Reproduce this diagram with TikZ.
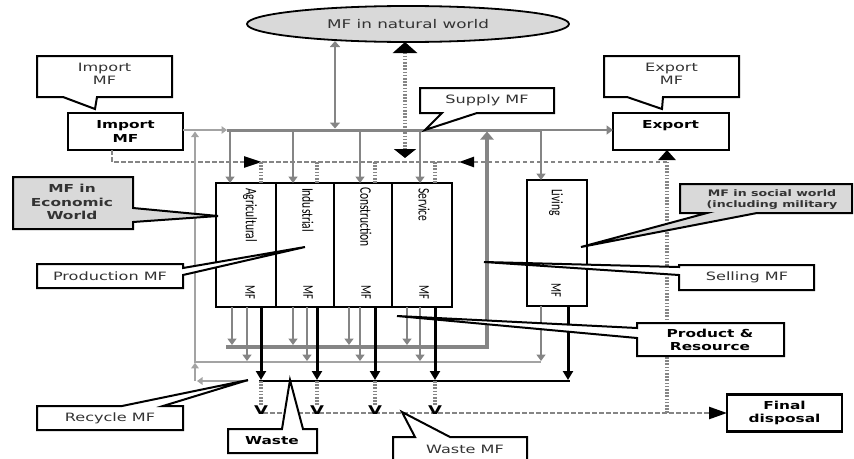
\documentclass[tikz,border=0pt]{standalone}
\usepackage{fontspec}
\setmainfont[FakeStretch=1.4]{DejaVu Sans}
\newfontfamily\sectorfont{Carlito}
\newfontfamily\markfont[FakeStretch=1.5]{DejaVu Sans Bold}
\usetikzlibrary{arrows.meta,shapes.geometric}

\definecolor{flow}{HTML}{858585}
\definecolor{flowlight}{HTML}{A3A3A3}
\definecolor{panel}{HTML}{D9D9D9}
\definecolor{ink}{HTML}{333333}

\tikzset{
  every node/.style={inner sep=0pt, outer sep=0pt},
  txt/.style={font=\fontsize{11.5}{13.5}\selectfont, text=ink, align=center},
  btxt/.style={font=\fontsize{11}{13.5}\selectfont\bfseries, text=black, align=center},
  frame/.style={draw=black, line width=2.2pt, fill=white, minimum height=37pt},
  callout/.style={draw=black, line width=2pt, fill=white},
  grayout/.style={callout, fill=panel},
  sector/.style={draw=black, line width=2.2pt, minimum height=124pt},
  vlab/.style={rotate=-90, anchor=west, font=\sectorfont\fontsize{11.5}{13}\selectfont},
  mflab/.style={rotate=-90, font=\sectorfont\fontsize{10.5}{12}\selectfont},
  vmark/.style={anchor=south, font=\markfont\fontsize{12}{12}\selectfont, text=black},
  garrow/.style={draw=flow, line width=2.2pt, -{Triangle[length=6.5pt,width=9pt]}},
  lightarrow/.style={draw=flowlight, line width=1.6pt, -{Triangle[length=5.5pt,width=7.5pt]}},
  darkarrow/.style={draw=black, line width=3pt, -{Triangle[length=9pt,width=10pt]}},
  dotflow/.style={draw=flow, line width=3.2pt, dash pattern=on 1.6pt off 1.6pt},
  dashflow/.style={draw=flow, line width=2.4pt, dash pattern=on 4.5pt off 2.5pt},
}

\begin{document}
\begin{tikzpicture}[x=1pt,y=-1pt]
\useasboundingbox (0,0) rectangle (854,458);
\clip (0,0) rectangle (854,458);

% ---------- main nodes ----------
\node[ellipse, draw=black, line width=1.8pt, fill=panel, minimum width=322pt,
      minimum height=36pt, txt, font=\fontsize{12}{14}\selectfont] (nat) at (408,24) {MF in natural world};

\node[frame, minimum width=115pt, btxt] (imp) at (125.5,131.5) {Import\\MF};
\node[frame, minimum width=116pt] (exp) at (671,131.5) {};
\node[btxt] (expt) at (670.5,126) {Export};
\node[frame, minimum width=115pt, btxt] (fin) at (784.5,413) {Final\\disposal};

% economic sectors and living
\node[sector, minimum width=60pt] (agr) at (246,245) {};
\node[sector, minimum width=58pt] (ind) at (305,245) {};
\node[sector, minimum width=58pt] (con) at (363,245) {};
\node[sector, minimum width=60pt] (ser) at (422,245) {};
\node[sector, minimum width=60pt, minimum height=126pt] (liv) at (557,243) {};

\node[vlab] (agrl) at (250,188) {\scalebox{1}[1.4]{Agricultural}};
\node[vlab] (indl) at (308,188) {\scalebox{1}[1.4]{Industrial}};
\node[vlab] (conl) at (366,187) {\scalebox{1}[1.4]{Construction}};
\node[vlab] (serl) at (424,188) {\scalebox{1}[1.4]{Service}};
\node[vlab] (livl) at (556,189) {\scalebox{1}[1.4]{Living}};
\node[mflab] (agrm) at (250,292) {\scalebox{1}[1.4]{MF}};
\node[mflab] (indm) at (308,292) {\scalebox{1}[1.4]{MF}};
\node[mflab] (conm) at (366,292) {\scalebox{1}[1.4]{MF}};
\node[mflab] (serm) at (424,292) {\scalebox{1}[1.4]{MF}};
\node[mflab] (livm) at (556,290) {\scalebox{1}[1.4]{MF}};

% ---------- reference lines ----------
\coordinate (busL) at (227,130);
\coordinate (busR) at (541,130);
\coordinate (imline) at (0,162);
\coordinate (sl) at (0,347);
\coordinate (rl) at (0,362);
\coordinate (bl) at (0,381);
\coordinate (wline) at (0,413);
\coordinate (natlo) at (335,41);
\coordinate (natdot) at (405,42);
\coordinate (dotend) at (405,158);

% ---------- supply ----------
\draw[lightarrow] (imp.east |- busL) -- (busL);
\draw[draw=flow, line width=3pt] (busL) -- (busR);
\draw[garrow] (busR) -- (exp.west |- busR);
\draw[draw=flow, line width=2.6pt, {Triangle[length=6pt,width=10pt]}-{Triangle[length=6pt,width=10pt]},
      shorten >=1.5pt] (natlo) -- (natlo |- busL);
\draw[dotflow, {Triangle[length=11pt,width=24pt,color=black]}-{Triangle[length=9pt,width=22pt,color=black]}]
      (natdot) -- (dotend);

\draw[garrow] (busL -| 230,0) -- (agr.north -| 230,0);
\draw[garrow] (busL -| 293,0) -- (ind.north -| 293,0);
\draw[garrow] (busL -| 360,0) -- (con.north -| 360,0);
\draw[garrow] (busL -| 420,0) -- (ser.north -| 420,0);
\draw[garrow] (busR) -- (liv.north -| busR);

% ---------- import / export (dashed) ----------
\draw[dashflow, -{Triangle[length=18pt,width=11pt,color=black]}] (imp.south -| 112,0) |- (imline -| 262,0);
\draw[dashflow] (imline -| 262,0) -- (imline -| 460,0);
\draw[dashflow, -{Triangle[length=15pt,width=10pt,color=black]}] (imline -| 667,0) -- (imline -| 459,0);
\draw[dotflow] (imline -| 261,0) -- (agr.north -| 261,0);
\draw[dotflow] (imline -| 317,0) -- (ind.north -| 317,0);
\draw[dotflow] (imline -| 375,0) -- (con.north -| 375,0);
\draw[dotflow] (imline -| 435,0) -- (ser.north -| 435,0);
\draw[dotflow, -{Triangle[length=10pt,width=17pt,color=black]}] (wline -| 667,0) -- (exp.south -| 667,0);

% ---------- selling ----------
\draw[draw=flow, line width=4.2pt, line join=miter, -{Triangle[length=8pt,width=13pt]}, shorten >=1.5pt]
      (sl -| 226,0) -- (sl -| 487,0) -- (busL -| 487,0);
\draw[garrow, shorten >=2pt] (agr.south -| 232,0) -- (sl -| 232,0);
\draw[garrow, shorten >=2pt] (ind.south -| 293,0) -- (sl -| 293,0);
\draw[garrow, shorten >=2pt] (con.south -| 349,0) -- (sl -| 349,0);
\draw[garrow, shorten >=2pt] (ser.south -| 407,0) -- (sl -| 407,0);

% ---------- product & resource ----------
\draw[lightarrow, line join=miter, shorten >=1.5pt] (rl -| 541,0) -- (rl -| 195,0) -- (busL -| 195,0);
\draw[garrow, shorten >=1pt] (agr.south -| 247,0) -- (rl -| 247,0);
\draw[garrow, shorten >=1pt] (ind.south -| 307,0) -- (rl -| 307,0);
\draw[garrow, shorten >=1pt] (con.south -| 360,0) -- (rl -| 360,0);
\draw[garrow, shorten >=1pt] (ser.south -| 420,0) -- (rl -| 420,0);
\draw[garrow, shorten >=1pt] (liv.south -| 541,0) -- (rl -| 541,0);

% ---------- waste ----------
\draw[draw=black, line width=2.2pt] (bl -| 259,0) -- (bl -| 569.5,0);
\draw[darkarrow, shorten >=1pt] (agr.south -| 261,0) -- (bl -| 261,0);
\draw[darkarrow, shorten >=1pt] (ind.south -| 317,0) -- (bl -| 317,0);
\draw[darkarrow, shorten >=1pt] (con.south -| 375,0) -- (bl -| 375,0);
\draw[darkarrow, shorten >=1pt] (ser.south -| 435,0) -- (bl -| 435,0);
\draw[darkarrow, shorten >=1pt] (liv.south -| 568,0) -- (bl -| 568,0);

% recycle loop
\draw[lightarrow] (bl -| 248,0) -- (bl -| 197,0);
\draw[lightarrow, shorten >=0.8pt] (bl -| 195,0) -- (rl -| 195,0);

% waste to final disposal
\draw[dashflow, -{Triangle[length=18pt,width=12pt,color=black]}] (wline -| 263,0) -- (fin.west |- wline);
\node[vmark] (v1) at (261,414.5) {V};
\node[vmark] (v2) at (317,414.5) {V};
\node[vmark] (v3) at (375,414.5) {V};
\node[vmark] (v4) at (435,414.5) {V};
\draw[dotflow] (bl -| v1) -- (v1.north);
\draw[dotflow] (bl -| v2) -- (v2.north);
\draw[dotflow] (bl -| v3) -- (v3.north);
\draw[dotflow] (bl -| v4) -- (v4.north);

% ---------- callouts ----------
\draw[callout] (37,56) -- (172,56) -- (172,97) -- (97,97) -- (95,109) -- (63,97) -- (37,97) -- cycle;
\node[txt] (impc) at (104.5,74) {Import\\MF};

\draw[callout] (604,56) -- (739,56) -- (739,97) -- (663,97) -- (662,109) -- (627,97) -- (604,97) -- cycle;
\node[txt] (expc) at (671.5,74) {Export\\MF};

\draw[callout] (420,88) -- (554,88) -- (554,113) -- (477,113) -- (425,130) -- (442,113) -- (420,113) -- cycle;
\node[txt] (supc) at (487,100) {Supply MF};

\draw[grayout] (13,177) -- (133,177) -- (133,208) -- (218,216) -- (133,222) -- (133,229) -- (13,229) -- cycle;
\node[btxt, text=ink] (ecoc) at (72,202) {MF in\\Economic\\World};

\draw[grayout] (680,184) -- (852,184) -- (852,213) -- (757,213) -- (581,247) -- (707,213) -- (680,213) -- cycle;
\node[btxt, text=ink, font=\fontsize{9}{11}\selectfont\bfseries] (socc) at (772,199.5) {MF in social world\\(including military};

\draw[callout] (37,264) -- (183,264) -- (183,268) -- (305,247) -- (183,275) -- (183,288) -- (37,288) -- cycle;
\node[txt] (prodc) at (110,276) {Production MF};

\draw[callout] (679,265) -- (814,265) -- (814,290) -- (679,290) -- (679,275) -- (484,262) -- (679,267) -- cycle;
\node[txt] (sellc) at (747,277) {Selling MF};

\draw[callout] (637,323) -- (784,323) -- (784,356) -- (637,356) -- (637,338) -- (397,316) -- (637,328) -- cycle;
\node[btxt] (prsc) at (710,340) {Product \&\\Resource};

\draw[callout] (37,406) -- (122,406) -- (248,380) -- (163,406) -- (183,406) -- (183,430) -- (37,430) -- cycle;
\node[txt] (recc) at (110,418) {Recycle MF};

\draw[callout] (228,429) -- (282,429) -- (290,380) -- (303,429) -- (317,429) -- (317,453) -- (228,453) -- cycle;
\node[btxt] (wasc) at (272,441) {Waste};

\draw[callout] (393,472) -- (393,437) -- (415,437) -- (402,412) -- (450,437) -- (527,437) -- (527,472) -- cycle;
\node[txt] (wmfc) at (465,449) {Waste MF};
\end{tikzpicture}
\end{document}
